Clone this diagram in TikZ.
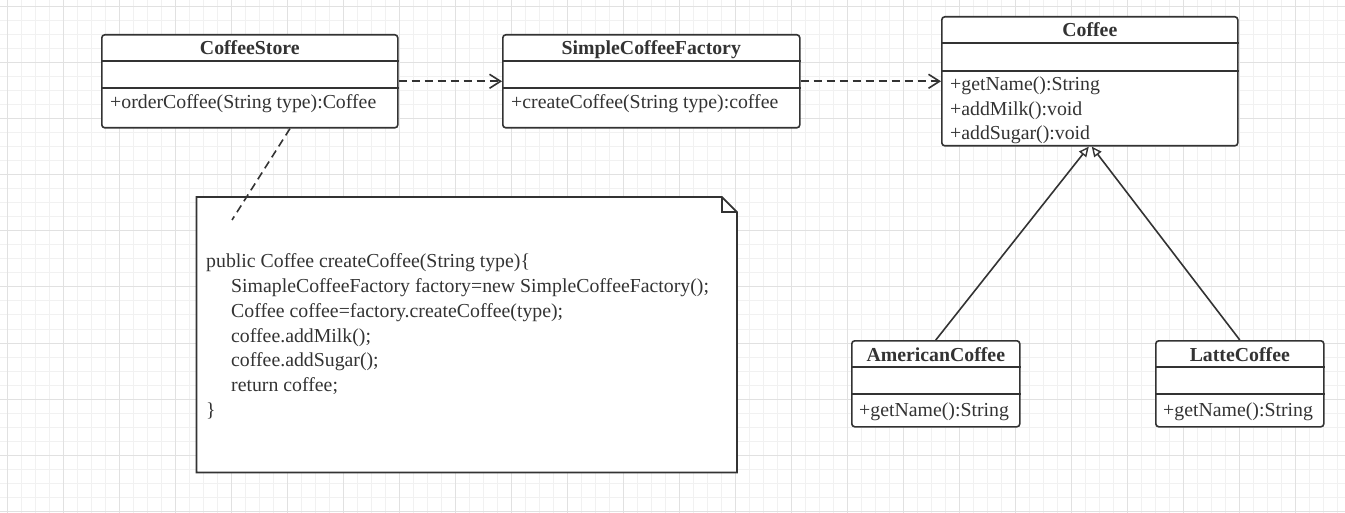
\documentclass[tikz,border=0pt]{standalone}
\usepackage{fontspec}
\setmainfont{Liberation Serif}
\usetikzlibrary{arrows.meta,calc}
\definecolor{ink}{HTML}{333333}
\definecolor{gridminor}{HTML}{F1F1F1}
\definecolor{gridmajor}{HTML}{E1E1E1}
\begin{document}
\begin{tikzpicture}[x=1pt,y=-1pt,
  classbox/.style={draw=ink, line width=1.6pt, rounded corners=3pt, inner sep=0pt, anchor=north west, fill=white},
  divider/.style={draw=ink, line width=1.6pt},
  titletext/.style={font=\bfseries\fontsize{19.8}{24}\selectfont, text=ink, anchor=base, inner sep=0pt},
  methtext/.style={font=\fontsize{19.8}{24}\selectfont, text=ink, anchor=base west, inner sep=0pt},
  dep/.style={draw=ink, line width=1.6pt, dash pattern=on 8pt off 5pt, -{Straight Barb[length=11pt,width=14pt,line width=1.6pt]}},
  inherit/.style={draw=ink, line width=1.6pt, -{Triangle[open, fill=white, length=10pt, width=9pt, line width=1.4pt]}},
  notelink/.style={draw=ink, line width=1.6pt, dash pattern=on 8pt off 5pt},
  notebox/.style={draw=ink, line width=1.8pt, fill=white}
]
% background and grid
\useasboundingbox (0,0) rectangle (1345,513);
\fill[white] (0,0) rectangle (1345,513);
\foreach \g in {7,21,...,1345} \draw[gridminor, line width=1pt] (\g,0) -- (\g,513);
\foreach \g in {7,21,...,513} \draw[gridminor, line width=1pt] (0,\g) -- (1345,\g);
\foreach \g in {7,63,...,1345} \draw[gridmajor, line width=1pt] (\g,0) -- (\g,513);
\foreach \g in {7,63,...,513} \draw[gridmajor, line width=1pt] (0,\g) -- (1345,\g);

% CoffeeStore
\node[classbox, minimum width=296pt, minimum height=93pt] (cs) at (101,34) {};
\draw[divider] (cs.west |- 0,61) -- (cs.east |- 0,61);
\draw[divider] (cs.west |- 0,88) -- (cs.east |- 0,88);
\node[titletext] (cst) at (cs.center |- 0,55) {CoffeeStore};
\node[methtext] (csm) at (110,109) {+orderCoffee(String type):Coffee};

% SimpleCoffeeFactory
\node[classbox, minimum width=297pt, minimum height=93pt] (scf) at (502,34) {};
\draw[divider] (scf.west |- 0,61) -- (scf.east |- 0,61);
\draw[divider] (scf.west |- 0,88) -- (scf.east |- 0,88);
\node[titletext] (scft) at (scf.center |- 0,55) {SimpleCoffeeFactory};
\node[methtext] (scfm) at (511,109) {+createCoffee(String type):coffee};

% Coffee
\node[classbox, minimum width=296pt, minimum height=129pt] (cof) at (941,16) {};
\draw[divider] (cof.west |- 0,43) -- (cof.east |- 0,43);
\draw[divider] (cof.west |- 0,71) -- (cof.east |- 0,71);
\node[titletext] (coft) at (cof.center |- 0,37) {Coffee};
\node[methtext] (cofm1) at (950,91) {+getName():String};
\node[methtext] (cofm2) at (950,115.5) {+addMilk():void};
\node[methtext] (cofm3) at (950,140) {+addSugar():void};

% AmericanCoffee
\node[classbox, minimum width=168pt, minimum height=86pt] (ac) at (851,340) {};
\draw[divider] (ac.west |- 0,367) -- (ac.east |- 0,367);
\draw[divider] (ac.west |- 0,394) -- (ac.east |- 0,394);
\node[titletext] (act) at (ac.center |- 0,361) {AmericanCoffee};
\node[methtext] (acm) at (859,416) {+getName():String};

% LatteCoffee
\node[classbox, minimum width=168pt, minimum height=86pt] (lc) at (1155,340) {};
\draw[divider] (lc.west |- 0,367) -- (lc.east |- 0,367);
\draw[divider] (lc.west |- 0,394) -- (lc.east |- 0,394);
\node[titletext] (lct) at (lc.center |- 0,361) {LatteCoffee};
\node[methtext] (lcm) at (1163,416) {+getName():String};

% dependencies
\draw[dep] (cs.east) -- (scf.west);
\draw[dep] (scf.east) -- (cof.west);

% inheritance
\draw[inherit] (ac.north) -- ([xshift=-1pt]cof.south);
\draw[inherit] (lc.north) -- ([xshift=2pt]cof.south);

% note
\node[minimum width=540pt, minimum height=275pt, anchor=north west, inner sep=0pt] (note) at (196.5,197) {};
\draw[notebox] (note.north west) -- ([xshift=-15pt]note.north east) -- ([yshift=-15pt]note.north east) -- (note.south east) -- (note.south west) -- cycle;
\draw[draw=ink, line width=1.4pt] ([xshift=-15pt]note.north east) -- ([xshift=-15pt,yshift=-15pt]note.north east) -- ([yshift=-15pt]note.north east);
\coordinate (linkend) at (232,220);
\draw[notelink] ($(cs.south west)!0.635!(cs.south east)$) -- (linkend);

\node[methtext] (n1) at (206,268) {public Coffee createCoffee(String type)\{};
\node[methtext] (n2) at (231,292.7) {SimapleCoffeeFactory factory=new SimpleCoffeeFactory();};
\node[methtext] (n3) at (231,317.4) {Coffee coffee=factory.createCoffee(type);};
\node[methtext] (n4) at (231,342) {coffee.addMilk();};
\node[methtext] (n5) at (231,366.8) {coffee.addSugar();};
\node[methtext] (n6) at (231,391.5) {return coffee;};
\node[methtext] (n7) at (206,416) {\}};
\end{tikzpicture}
\end{document}
